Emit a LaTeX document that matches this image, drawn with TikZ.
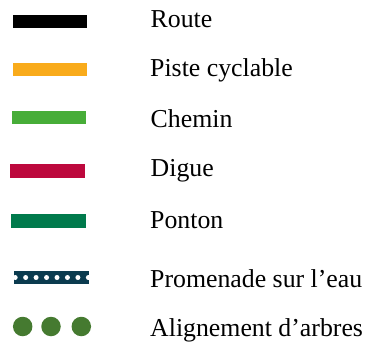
\documentclass[tikz,border=0pt]{standalone}
\usepackage{fontspec}
\setmainfont{Liberation Serif}
\definecolor{route}{HTML}{000000}
\definecolor{piste}{HTML}{F9AB1B}
\definecolor{chemin}{HTML}{47AD38}
\definecolor{digue}{HTML}{BD083D}
\definecolor{ponton}{HTML}{007A4C}
\definecolor{promenade}{HTML}{0B3B4F}
\definecolor{arbre}{HTML}{457A30}
\begin{document}
\begin{tikzpicture}[x=1pt,y=-1pt,
  bar/.style={rectangle,inner sep=0pt,minimum width=74pt,minimum height=13pt,draw=none},
  lab/.style={anchor=base west,inner sep=0pt,font=\fontsize{25.8}{30}\selectfont},
  tree/.style={circle,inner sep=0pt,minimum size=19.5pt,fill=arbre}]
\useasboundingbox (0,0) rectangle (366,342);
\node[bar,fill=route] (b1) at (49.5,21.5) {};
\node[bar,fill=piste] (b2) at (49.5,69.5) {};
\node[bar,fill=chemin] (b3) at (48.5,117.5) {};
\node[bar,fill=digue,minimum width=75pt,minimum height=14pt] (b4) at (47.5,171) {};
\node[bar,fill=ponton,minimum width=75pt,minimum height=14pt] (b5) at (48.5,221) {};
\node[bar,fill=promenade,minimum width=75pt,minimum height=13.5pt] (b6) at (51.5,277.5) {};
\begin{scope}
\clip (b6.south west) rectangle (b6.north east);
\foreach \i in {0,...,7} \fill[white] (15.2+\i*10.45,277.5) circle (2.5pt);
\end{scope}
\node[tree] (t1) at (22.7,326.5) {};
\node[tree] (t2) at (51,326.5) {};
\node[tree] (t3) at (81.3,326.5) {};
\node[lab] (l1) at (150.5,27.3) {Route};
\node[lab] (l2) at (150,76.7) {Piste cyclable};
\node[lab] (l3) at (150.5,127.7) {Chemin};
\node[lab] (l4) at (150.5,176.7) {Digue};
\node[lab] (l5) at (150,228) {Ponton};
\node[lab] (l6) at (150,287) {Promenade sur l’eau};
\node[lab] (l7) at (150,336.7) {Alignement d’arbres};
\end{tikzpicture}
\end{document}
